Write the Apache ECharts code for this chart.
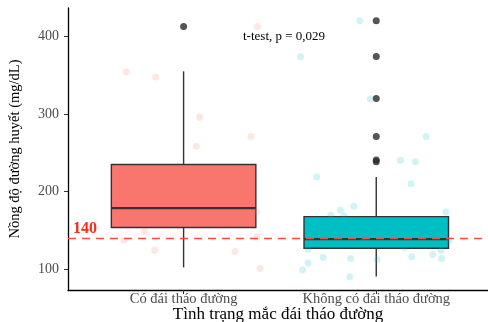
<!DOCTYPE html>
<html>
<head>
<meta charset="utf-8">
<script src="https://cdn.jsdelivr.net/npm/echarts@6/dist/echarts.min.js"></script>
<style>
  html, body { margin: 0; padding: 0; background: #fff; }
  #main { width: 488px; height: 322px; }
</style>
</head>
<body>
<div id="main"></div>
<script>
var categories = ['Có đái tháo đường', 'Không có đái tháo đường'];
// [min, Q1, median, Q3, max] per group
var boxStats = [
  [102.6, 153.9, 179, 235, 355],
  [91, 127.3, 139, 168, 218.8]
];
// [group, value]
var outliers = [[1, 412.6], [2, 420], [2, 374], [2, 320], [2, 271], [2, 241], [2, 238.5]];
// jitter points: [offset from group centre, value]
var jitterCo = [
  [-0.298, 354.5], [-0.145, 347.6], [0.083, 295.8], [0.067, 258.6], [0.383, 412.6],
  [0.35, 271], [-0.31, 137.6], [-0.203, 149], [-0.15, 124.8], [0.267, 123.1],
  [0.38, 173.9], [0.38, 141.8], [0.397, 101.3]
];
var jitterKhong = [
  [-0.086, 420], [-0.393, 373.7], [-0.031, 319.7], [0.259, 271], [0.126, 240.6],
  [0.203, 238.6], [-0.309, 218.8], [0.181, 210.4], [-0.116, 181.2], [-0.186, 176.1],
  [-0.236, 169.7], [-0.167, 168.8], [0.362, 173.9], [0.379, 137.6], [-0.354, 126],
  [-0.276, 115.4], [-0.133, 114.1], [0.005, 112.8], [0.184, 116.2], [0.293, 119.2],
  [0.336, 124.8], [0.339, 114.1], [-0.354, 108.1], [-0.383, 99.5], [-0.137, 90.5],
  [-0.069, 136.7], [0.146, 128.2], [-0.1, 132.5]
];
var threshold = 140;
var yTicks = [100, 200, 300, 400];
var testLabel = 't-test, p = 0,029';

var boxColors = ['#F8766D', '#00BFC4'];
var serif = 'Liberation Serif';
var dashRed = '#ff4a3d';

var myChart = echarts.init(document.getElementById('main'));

var boxData = boxStats.map(function (s, i) { return [i + 1].concat(s); });
function jit(arr, g) {
  return arr.map(function (p) { return [g + p[0], p[1]]; });
}

var option = {
  animation: false,
  grid: { left: 68, right: 0, top: 8, bottom: 32, outerBoundsMode: 'none', containLabel: false },
  xAxis: {
    type: 'value',
    min: 0.4,
    max: 2.58,
    splitLine: { show: false },
    axisLine: { show: true, lineStyle: { color: '#000', width: 1.3 } },
    axisTick: { show: true, customValues: [1, 2], length: 4, lineStyle: { color: '#333' } },
    axisLabel: {
      customValues: [1, 2],
      formatter: function (v) { return categories[Math.round(v) - 1]; },
      fontFamily: serif, fontSize: 14.5, color: '#4d4d4d', margin: 2
    },
    name: 'Tình trạng mắc đái tháo đường',
    nameLocation: 'middle',
    nameGap: 16,
    nameMoveOverlap: false,
    nameTextStyle: { fontFamily: serif, fontSize: 17, color: '#000' }
  },
  yAxis: {
    type: 'value',
    min: 73.5,
    max: 436.5,
    splitLine: { show: false },
    axisLine: { show: true, lineStyle: { color: '#000', width: 1.3 } },
    axisTick: { show: true, customValues: yTicks, length: 4, lineStyle: { color: '#333' } },
    axisLabel: {
      customValues: yTicks,
      fontFamily: serif, fontSize: 14, color: '#4d4d4d', margin: 9
    },
    name: 'Nồng độ đường huyết (mg/dL)',
    nameLocation: 'middle',
    nameRotate: 90,
    nameGap: 45,
    nameMoveOverlap: false,
    nameTextStyle: { fontFamily: serif, fontSize: 14.5, color: '#000' }
  },
  graphic: [{
    type: 'text',
    left: 243,
    top: 30,
    style: { text: testLabel, font: '13px "Liberation Serif"', fill: '#000' }
  }],
  series: [
    {
      type: 'custom',
      z: 1,
      data: boxData,
      encode: { x: 0, y: [1, 2, 3, 4, 5] },
      renderItem: function (params, api) {
        var x = api.value(0);
        var lo = api.coord([x, api.value(1)]);
        var q1 = api.coord([x, api.value(2)]);
        var med = api.coord([x, api.value(3)]);
        var q3 = api.coord([x, api.value(4)]);
        var hi = api.coord([x, api.value(5)]);
        var half = api.size([0.75, 0])[0] / 2;
        var ln = { stroke: '#333', lineWidth: 1.4 };
        return {
          type: 'group',
          children: [
            { type: 'line', shape: { x1: lo[0], y1: lo[1], x2: q1[0], y2: q1[1] }, style: ln },
            { type: 'line', shape: { x1: q3[0], y1: q3[1], x2: hi[0], y2: hi[1] }, style: ln },
            { type: 'rect', shape: { x: q3[0] - half, y: q3[1], width: half * 2, height: q1[1] - q3[1] },
              style: { fill: boxColors[params.dataIndex], stroke: '#333', lineWidth: 1.4 } },
            { type: 'line', shape: { x1: med[0] - half, y1: med[1], x2: med[0] + half, y2: med[1] },
              style: { stroke: '#333', lineWidth: 2.2 } }
          ]
        };
      }
    },
    {
      type: 'scatter',
      z: 2,
      data: outliers,
      symbolSize: 7,
      itemStyle: { color: '#2b2b2b' }
    },
    {
      type: 'scatter',
      z: 3,
      data: jit(jitterCo, 1),
      symbolSize: 7,
      itemStyle: { color: '#F8766D', opacity: 0.18 }
    },
    {
      type: 'scatter',
      z: 3,
      data: jit(jitterKhong, 2),
      symbolSize: 7,
      itemStyle: { color: '#00BFC4', opacity: 0.18 }
    },
    {
      type: 'line',
      z: 4,
      data: [],
      markLine: {
        silent: true,
        symbol: 'none',
        lineStyle: { color: dashRed, type: [8, 6], width: 1.3 },
        label: {
          position: 'insideStartTop',
          formatter: String(threshold),
          color: '#ff2a1a',
          fontFamily: serif,
          fontWeight: 'bold',
          fontSize: 16,
          distance: [5, 1]
        },
        data: [{ yAxis: threshold, lineStyle: { color: dashRed, type: [8, 6], width: 1.3 } }]
      }
    }
  ]
};

myChart.setOption(option);
</script>
</body>
</html>
